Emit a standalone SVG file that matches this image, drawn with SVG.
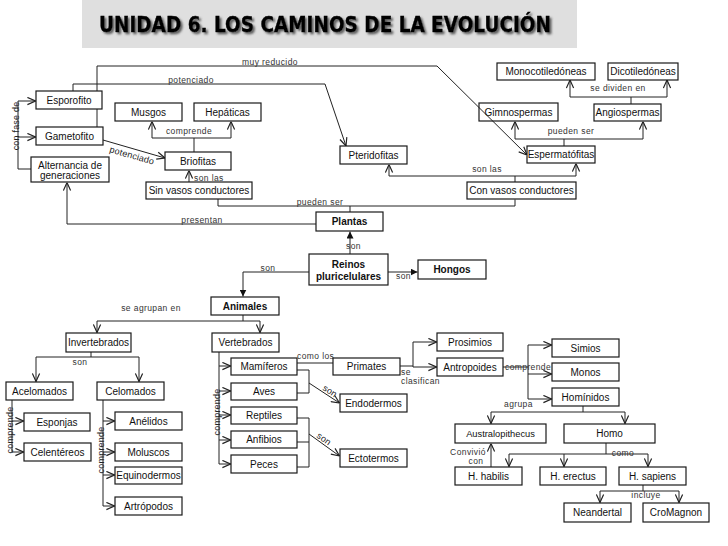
<svg xmlns="http://www.w3.org/2000/svg" width="728" height="546" viewBox="0 0 728 546">
<style>
.n rect{fill:#fff;stroke:#1a1a1a;stroke-width:1.2}
.t{font-family:"Liberation Sans",Arial,sans-serif;font-size:10px;fill:#111;text-anchor:middle}
.b{font-weight:bold}
.c path{fill:none;stroke:#222;stroke-width:1}
.l{font-family:"Liberation Sans",Arial,sans-serif;font-size:8.5px;fill:#333;letter-spacing:0.4px;text-anchor:middle}
.s{text-anchor:start}
.v{font-size:9px;fill:#222;letter-spacing:0.2px}
</style>
<defs>
<marker id="a" viewBox="0 0 10 10" refX="10" refY="5" markerWidth="9" markerHeight="9" markerUnits="userSpaceOnUse" orient="auto"><path d="M1,1 L10,5 L1,9" fill="none" stroke="#222" stroke-width="1.3"/></marker>
<marker id="f" viewBox="0 0 10 10" refX="10" refY="5" markerWidth="7" markerHeight="7" markerUnits="userSpaceOnUse" orient="auto"><path d="M0,0 L10,5 L0,10 z" fill="#111"/></marker>
<filter id="sh" x="-5%" y="-30%" width="110%" height="160%"><feDropShadow dx="2" dy="2" stdDeviation="0.8" flood-color="#444" flood-opacity="0.85"/></filter>
</defs>
<rect width="728" height="546" fill="#fff"/>
<g id="title">
<rect x="82" y="0" width="495" height="48" fill="#dfdfdf"/>
<text x="325" y="32" font-family="'DejaVu Sans',Verdana,sans-serif" font-weight="bold" font-size="22" text-anchor="middle" textLength="452" lengthAdjust="spacingAndGlyphs" fill="#000" stroke="#000" stroke-width="0.4" filter="url(#sh)">UNIDAD 6. LOS CAMINOS DE LA EVOLUCIÓN</text>
</g>
<g id="connectors" class="c">
<path d="M31,169 H18 V101 H35.5" marker-end="url(#a)"/>
<path d="M18,137 H35.5" marker-end="url(#a)"/>
<path d="M103,140 L165,158" marker-end="url(#a)"/>
<path d="M97,127 V66 H437 L527,155" marker-end="url(#a)"/>
<path d="M73,91 V84 H325 L346,146" marker-end="url(#a)"/>
<path d="M194,152 V138"/>
<path d="M194,138 H152 V121.5" marker-end="url(#a)"/>
<path d="M194,138 H231 V121.5" marker-end="url(#a)"/>
<path d="M189,182 V170.5" marker-end="url(#a)"/>
<path d="M350,212 V206"/>
<path d="M218,199 V206 H515 V199.5"/>
<path d="M316,224 H67 V182.5" marker-end="url(#a)"/>
<path d="M515,182 V176"/>
<path d="M515,176 H389 V164.5" marker-end="url(#a)"/>
<path d="M515,176 H576 V163.5" marker-end="url(#a)"/>
<path d="M564,146 V139"/>
<path d="M564,139 H515 V121.5" marker-end="url(#a)"/>
<path d="M564,139 H643 V121.5" marker-end="url(#a)"/>
<path d="M631,104 V97"/>
<path d="M631,97 H570 V80" marker-end="url(#a)"/>
<path d="M631,97 H667 V80" marker-end="url(#a)"/>
<path d="M350,254 V231.5" marker-end="url(#f)"/>
<path d="M388,272 H417.5" marker-end="url(#f)"/>
<path d="M309,272 H243 V296.5" marker-end="url(#f)"/>
<path d="M243,315 V321"/>
<path d="M243,321 H97 V332.5" marker-end="url(#a)"/>
<path d="M243,321 H260 V332.5" marker-end="url(#a)"/>
<path d="M91,352 V357"/>
<path d="M91,357 H36 V381.5" marker-end="url(#a)"/>
<path d="M91,357 H139 V381.5" marker-end="url(#a)"/>
<path d="M12,400 V452 H23.5" marker-end="url(#a)"/>
<path d="M12,421 H23.5" marker-end="url(#a)"/>
<path d="M103,400 V506 H114.5" marker-end="url(#a)"/>
<path d="M103,421 H114.5" marker-end="url(#a)"/>
<path d="M103,452 H114.5" marker-end="url(#a)"/>
<path d="M103,475 H114.5" marker-end="url(#a)"/>
<path d="M219,352 V464 H230.5" marker-end="url(#a)"/>
<path d="M219,366 H230.5" marker-end="url(#a)"/>
<path d="M219,391 H230.5" marker-end="url(#a)"/>
<path d="M219,415 H230.5" marker-end="url(#a)"/>
<path d="M219,440 H230.5" marker-end="url(#a)"/>
<path d="M297,370 H309 V393 H297"/>
<path d="M309,383 L339.5,403" marker-end="url(#a)"/>
<path d="M297,418 H309 V467 H297"/>
<path d="M297,442 H309"/>
<path d="M309,434 L339.5,456" marker-end="url(#a)"/>
<path d="M297,363 H333"/>
<path d="M400,366 H413"/>
<path d="M413,342 V367"/>
<path d="M413,342 H436.5" marker-end="url(#a)"/>
<path d="M413,367 H436.5" marker-end="url(#a)"/>
<path d="M503,367 H528"/>
<path d="M528,345 V399"/>
<path d="M528,345 H551.5" marker-end="url(#a)"/>
<path d="M528,374 H551.5" marker-end="url(#a)"/>
<path d="M528,399 H551.5" marker-end="url(#a)"/>
<path d="M583,406 V412"/>
<path d="M583,412 H491 V423.5" marker-end="url(#a)"/>
<path d="M583,412 H625 V423.5" marker-end="url(#a)"/>
<path d="M606,443 V454"/>
<path d="M606,454 H509 V466.5" marker-end="url(#a)"/>
<path d="M606,454 H648 V466.5" marker-end="url(#a)"/>
<path d="M564,454 V466.5" marker-end="url(#a)"/>
<path d="M491,467 V443.5" marker-end="url(#a)"/>
<path d="M643,485 V491"/>
<path d="M643,491 H600 V502.5" marker-end="url(#a)"/>
<path d="M643,491 H679 V502.5" marker-end="url(#a)"/>
</g>
<g id="labels">
<text class="l v" transform="translate(18.5,126) rotate(-90)">con fase de</text>
<text class="l v" transform="translate(132,155.5) rotate(16)" y="3">potenciado</text>
<text class="l" x="270" y="65">muy reducido</text>
<text class="l" x="191" y="83">potenciado</text>
<text class="l" x="189" y="134">comprende</text>
<text class="l s" x="194" y="181">son las</text>
<text class="l" x="320" y="205">pueden ser</text>
<text class="l" x="202" y="223">presentan</text>
<text class="l" x="487" y="172">son las</text>
<text class="l" x="571" y="134">pueden ser</text>
<text class="l" x="618" y="91">se dividen en</text>
<text class="l s" x="346" y="249">son</text>
<text class="l s" x="396" y="279">son</text>
<text class="l" x="268" y="271">son</text>
<text class="l" x="151" y="311">se agrupan en</text>
<text class="l" x="80" y="365">son</text>
<text class="l v" transform="translate(13,430) rotate(-90)">comprende</text>
<text class="l v" transform="translate(104,450) rotate(-90)">comprende</text>
<text class="l v" transform="translate(220,412) rotate(-90)">comprende</text>
<text class="l v" transform="translate(330,391) rotate(33)" y="3">son</text>
<text class="l v" transform="translate(324,439) rotate(35)" y="3">son</text>
<text class="l s" x="297" y="359">como los</text>
<text class="l s" x="401" y="375">se</text>
<text class="l s" x="401" y="384">clasifican</text>
<text class="l s" x="505" y="370">comprende</text>
<text class="l s" x="504" y="407">agrupa</text>
<text class="l" x="468" y="455">Convivió</text>
<text class="l" x="476" y="464">con</text>
<text class="l" x="623" y="456">como</text>
<text class="l" x="646" y="498">incluye</text>
</g>
<g id="esporofito" class="n"><rect x="36" y="91" width="66" height="18"/><text class="t" x="69" y="103.5">Esporofito</text></g>
<g id="gametofito" class="n"><rect x="36" y="127" width="67" height="18"/><text class="t" x="69.5" y="139.5">Gametofito</text></g>
<g id="alternancia" class="n"><rect x="31" y="157" width="78" height="25"/><text class="t" x="70" y="168.5">Alternancia de</text><text class="t" x="70" y="179">generaciones</text></g>
<g id="musgos" class="n"><rect x="115" y="103" width="67" height="18"/><text class="t" x="148.5" y="115.5">Musgos</text></g>
<g id="hepaticas" class="n"><rect x="194" y="103" width="67" height="18"/><text class="t" x="227.5" y="115.5">Hepáticas</text></g>
<g id="briofitas" class="n"><rect x="165" y="152" width="66" height="18"/><text class="t" x="198" y="164.5">Briofitas</text></g>
<g id="sinvasos" class="n"><rect x="146" y="182" width="106" height="17"/><text class="t" x="199" y="194">Sin vasos conductores</text></g>
<g id="pteridofitas" class="n"><rect x="340" y="146" width="67" height="18"/><text class="t" x="373.5" y="158.5">Pteridofitas</text></g>
<g id="monocotiledoneas" class="n"><rect x="497" y="63" width="98" height="17"/><text class="t" x="546" y="75">Monocotiledóneas</text></g>
<g id="dicotiledoneas" class="n"><rect x="608" y="63" width="70" height="17"/><text class="t" x="643" y="75">Dicotiledóneas</text></g>
<g id="gimnospermas" class="n"><rect x="479" y="103" width="79" height="18" style="fill:none"/><text class="t" x="518.5" y="115.5">Gimnospermas</text></g>
<g id="angiospermas" class="n"><rect x="594" y="104" width="67" height="17"/><text class="t" x="627.5" y="116">Angiospermas</text></g>
<g id="espermatofitas" class="n"><rect x="527" y="146" width="68" height="17"/><text class="t" x="561" y="158">Espermatófitas</text></g>
<g id="convasos" class="n"><rect x="467" y="182" width="109" height="17"/><text class="t" x="521.5" y="194">Con vasos conductores</text></g>
<g id="plantas" class="n"><rect x="316" y="212" width="67" height="19"/><text class="t b" x="349.5" y="225">Plantas</text></g>
<g id="reinos" class="n"><rect x="309" y="254" width="79" height="31"/><text class="t b" x="348.5" y="267.5">Reinos</text><text class="t b" x="348.5" y="279.5">pluricelulares</text></g>
<g id="hongos" class="n"><rect x="418" y="260" width="68" height="19"/><text class="t b" x="452" y="273">Hongos</text></g>
<g id="animales" class="n"><rect x="211" y="297" width="68" height="18"/><text class="t b" x="245" y="309.5">Animales</text></g>
<g id="invertebrados" class="n"><rect x="66" y="333" width="65" height="19"/><text class="t" x="98.5" y="346">Invertebrados</text></g>
<g id="vertebrados" class="n"><rect x="212" y="333" width="67" height="19"/><text class="t" x="245.5" y="346">Vertebrados</text></g>
<g id="acelomados" class="n"><rect x="6" y="382" width="67" height="18"/><text class="t" x="39.5" y="394.5">Acelomados</text></g>
<g id="celomados" class="n"><rect x="97" y="382" width="67" height="18"/><text class="t" x="130.5" y="394.5">Celomados</text></g>
<g id="esponjas" class="n"><rect x="24" y="413" width="66" height="18"/><text class="t" x="57" y="425.5">Esponjas</text></g>
<g id="celentereos" class="n"><rect x="24" y="443" width="67" height="18"/><text class="t" x="57.5" y="455.5">Celentéreos</text></g>
<g id="anelidos" class="n"><rect x="115" y="412" width="67" height="18"/><text class="t" x="148.5" y="424.5">Anélidos</text></g>
<g id="moluscos" class="n"><rect x="115" y="443" width="67" height="18"/><text class="t" x="148.5" y="455.5">Moluscos</text></g>
<g id="equinodermos" class="n"><rect x="115" y="467" width="67" height="17"/><text class="t" x="148.5" y="479">Equinodermos</text></g>
<g id="artropodos" class="n"><rect x="115" y="497" width="67" height="18"/><text class="t" x="148.5" y="509.5">Artrópodos</text></g>
<g id="mamiferos" class="n"><rect x="231" y="358" width="66" height="17"/><text class="t" x="264" y="370">Mamíferos</text></g>
<g id="aves" class="n"><rect x="231" y="383" width="66" height="17"/><text class="t" x="264" y="395">Aves</text></g>
<g id="reptiles" class="n"><rect x="231" y="407" width="66" height="17"/><text class="t" x="264" y="419">Reptiles</text></g>
<g id="anfibios" class="n"><rect x="231" y="431" width="66" height="17"/><text class="t" x="264" y="443">Anfibios</text></g>
<g id="peces" class="n"><rect x="231" y="455" width="66" height="18"/><text class="t" x="264" y="467.5">Peces</text></g>
<g id="primates" class="n"><rect x="333" y="358" width="67" height="17"/><text class="t" x="366.5" y="370">Primates</text></g>
<g id="endodermos" class="n"><rect x="340" y="394" width="67" height="18"/><text class="t" x="373.5" y="406.5">Endodermos</text></g>
<g id="ectotermos" class="n"><rect x="340" y="449" width="67" height="18"/><text class="t" x="373.5" y="461.5">Ectotermos</text></g>
<g id="prosimios" class="n"><rect x="437" y="333" width="66" height="18"/><text class="t" x="470" y="345.5">Prosimios</text></g>
<g id="antropoides" class="n"><rect x="437" y="358" width="66" height="18"/><text class="t" x="470" y="370.5">Antropoides</text></g>
<g id="simios" class="n"><rect x="552" y="339" width="67" height="18"/><text class="t" x="585.5" y="351.5">Simios</text></g>
<g id="monos" class="n"><rect x="552" y="363" width="67" height="18"/><text class="t" x="585.5" y="375.5">Monos</text></g>
<g id="hominidos" class="n"><rect x="552" y="388" width="67" height="18"/><text class="t" x="585.5" y="400.5">Homínidos</text></g>
<g id="australopithecus" class="n"><rect x="455" y="424" width="91" height="19"/><text class="t" x="500.5" y="437" style="font-size:9.3px">Australopithecus</text></g>
<g id="homo" class="n"><rect x="564" y="424" width="91" height="19"/><text class="t" x="609.5" y="437">Homo</text></g>
<g id="hhabilis" class="n"><rect x="455" y="467" width="67" height="18"/><text class="t" x="488.5" y="479.5">H. habilis</text></g>
<g id="herectus" class="n"><rect x="540" y="467" width="66" height="18"/><text class="t" x="573" y="479.5">H. erectus</text></g>
<g id="hsapiens" class="n"><rect x="619" y="467" width="67" height="18"/><text class="t" x="652.5" y="479.5">H. sapiens</text></g>
<g id="neandertal" class="n"><rect x="564" y="503" width="67" height="19"/><text class="t" x="597.5" y="516">Neandertal</text></g>
<g id="cromagnon" class="n"><rect x="643" y="503" width="66" height="19"/><text class="t" x="676" y="516">CroMagnon</text></g>
</svg>
